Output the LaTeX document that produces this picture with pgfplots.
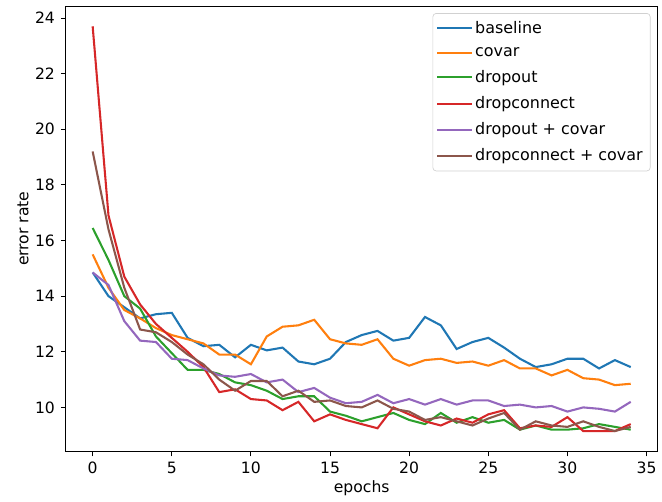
\documentclass[border=0pt]{standalone}
\usepackage{fontspec}
\setmainfont{DejaVu Sans}
\usepackage{pgfplots}
\pgfplotsset{compat=1.18}
\definecolor{c0}{HTML}{1F77B4}
\definecolor{c1}{HTML}{FF7F0E}
\definecolor{c2}{HTML}{2CA02C}
\definecolor{c3}{HTML}{D62728}
\definecolor{c4}{HTML}{9467BD}
\definecolor{c5}{HTML}{8C564B}

\pgfplotstableread{
ep base covar drop dconn dcov dccov
0  14.85 15.50 16.45 23.70 14.85 19.20
1  14.00 14.30 15.30 16.90 14.40 16.40
2  13.60 13.50 14.00 14.70 13.10 14.30
3  13.20 13.20 13.55 13.70 12.40 12.80
4  13.35 12.85 12.55 13.00 12.35 12.70
5  13.40 12.60 11.95 12.50 11.75 12.35
6  12.50 12.45 11.35 12.00 11.70 11.90
7  12.20 12.30 11.35 11.45 11.40 11.55
8  12.25 11.90 11.20 10.55 11.15 11.00
9  11.80 11.90 10.90 10.65 11.10 10.60
10 12.25 11.55 10.80 10.30 11.20 10.95
11 12.05 12.55 10.60 10.25 10.90 10.95
12 12.15 12.90 10.30 9.90  11.00 10.40
13 11.65 12.95 10.40 10.20 10.55 10.60
14 11.55 13.15 10.40 9.50  10.70 10.20
15 11.75 12.45 9.85  9.75  10.35 10.25
16 12.35 12.30 9.70  9.55  10.15 10.05
17 12.60 12.25 9.50  9.40  10.20 10.00
18 12.75 12.45 9.65  9.25  10.45 10.25
19 12.40 11.75 9.80  10.00 10.15 9.95
20 12.50 11.50 9.55  9.75  10.30 9.85
21 13.25 11.70 9.40  9.50  10.10 9.55
22 12.95 11.75 9.80  9.35  10.30 9.65
23 12.10 11.60 9.45  9.60  10.10 9.50
24 12.35 11.65 9.65  9.45  10.25 9.35
25 12.50 11.50 9.45  9.75  10.25 9.60
26 12.15 11.70 9.55  9.90  10.05 9.80
27 11.75 11.40 9.20  9.25  10.10 9.20
28 11.45 11.40 9.35  9.35  10.00 9.50
29 11.55 11.15 9.20  9.30  10.05 9.35
30 11.75 11.35 9.20  9.65  9.85  9.30
31 11.75 11.05 9.25  9.15  10.00 9.50
32 11.40 11.00 9.40  9.15  9.95  9.30
33 11.70 10.80 9.30  9.15  9.85  9.15
34 11.45 10.85 9.20  9.40  10.20 9.30
}\errtab

\begin{document}
\begin{tikzpicture}
\begin{axis}[
name=ax,
scale only axis,
width=356.4pt,height=268.2pt,
xmin=-1.7,xmax=35.7,ymin=8.42,ymax=24.43,
xtick={0,5,...,35},ytick={10,12,...,24},
xtick pos=left,ytick pos=left,
tick align=outside,
major tick length=3pt,
tick style={black,line width=0.5pt},
axis line style={line width=0.5pt},
tick label style={font=\fontsize{9.4}{11}\selectfont},
label style={font=\fontsize{9.4}{11}\selectfont},
/pgf/number format/assume math mode=true,
xlabel={epochs},ylabel={error rate},
xlabel style={yshift=3pt},
ylabel style={yshift=-3pt},
legend style={at={(0.988,0.984)},anchor=north east,draw=black!18,
  rounded corners=2pt,fill=white,
  inner xsep=2.5pt,inner ysep=2.5pt,row sep=3pt,
  cells={anchor=west},
  nodes={font=\fontsize{9.6}{11}\selectfont}},
legend image code/.code={\fill[#1,sharp corners,draw=none] (0pt,-0.6pt) rectangle (21pt,0.6pt);},
]
\addplot[c0,line width=1.25pt] table[x=ep,y=base] {\errtab};
\addlegendentry{baseline}
\addplot[c1,line width=1.25pt] table[x=ep,y=covar] {\errtab};
\addlegendentry{covar}
\addplot[c2,line width=1.25pt] table[x=ep,y=drop] {\errtab};
\addlegendentry{dropout}
\addplot[c3,line width=1.25pt] table[x=ep,y=dconn] {\errtab};
\addlegendentry{dropconnect}
\addplot[c4,line width=1.25pt] table[x=ep,y=dcov] {\errtab};
\addlegendentry{dropout + covar}
\addplot[c5,line width=1.25pt] table[x=ep,y=dccov] {\errtab};
\addlegendentry{dropconnect + covar}
\end{axis}
\path (ax.south west) ++(-39.6pt,-30pt) (ax.north east) ++(1.2pt,3.6pt);
\end{tikzpicture}
\end{document}
